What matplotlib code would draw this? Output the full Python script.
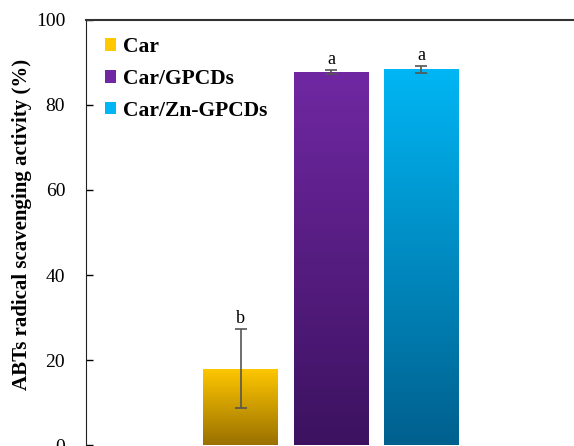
import matplotlib
matplotlib.use('Agg')
import matplotlib.pyplot as plt
import numpy as np
from matplotlib.colors import LinearSegmentedColormap

samples = ['Car', 'Car/GPCDs', 'Car/Zn-GPCDs']
values = [18.0, 87.7, 88.4]
errors = [9.4, 0.5, 0.8]
letters = ['b', 'a', 'a']
top_colors = ['#ffc800', '#7028a2', '#00b6f4']
bottom_colors = ['#9a7000', '#3c1260', '#00608e']

plt.rcParams['font.family'] = ['Liberation Serif', 'DejaVu Serif']

fig = plt.figure(figsize=(5.74, 4.46), dpi=100)
ax = fig.add_axes([0.1498, 0.0022, 0.8502, 0.9530])

x = np.arange(len(samples))
bars = ax.bar(x, values, width=0.83, color='none', edgecolor='none', zorder=2)

# vertical gradient fill for each bar
grad = np.linspace(0, 1, 256).reshape(-1, 1)
for b, c_top, c_bot, lab in zip(bars, top_colors, bottom_colors, samples):
    cmap = LinearSegmentedColormap.from_list('g', [c_bot, c_top])
    x0, y0 = b.get_x(), b.get_y()
    w, h = b.get_width(), b.get_height()
    im = ax.imshow(grad, cmap=cmap, aspect='auto', origin='lower',
                   extent=[x0, x0 + w, y0, y0 + h], zorder=2)
    im.set_clip_path(b)
    ax.bar(0, 0, color=c_top, label=lab)  # legend proxy

ax.errorbar(x, values, yerr=errors, fmt='none', ecolor='#555555',
            elinewidth=1.2, capsize=4, capthick=1.2, zorder=3)

for xi, v, e, t in zip(x, values, errors, letters):
    ax.text(xi, v + e + 0.4, t, ha='center', va='bottom', fontsize=13)

ax.set_xlim(-1.72, 3.7)
ax.set_ylim(0, 100)
ax.set_yticks([0, 20, 40, 60, 80, 100])
ax.set_xticks([])
ax.tick_params(axis='y', direction='in', length=5, width=1, labelsize=14, pad=15)
ax.set_ylabel('ABTs radical scavenging activity (%)', fontsize=15,
              fontweight='bold', labelpad=10)
ax.yaxis.set_label_coords(-0.11, 0.52)

for s in ['right', 'bottom']:
    ax.spines[s].set_visible(False)
ax.spines['left'].set_color('#222222')
ax.spines['top'].set_color('#333333')
ax.spines['top'].set_linewidth(1.5)

leg = ax.legend(loc='upper left', bbox_to_anchor=(0.0, 1.005), frameon=False,
                prop={'weight': 'bold', 'size': 15.5}, handlelength=0.5,
                handleheight=0.5, handletextpad=0.3, labelspacing=0.55)

fig.savefig('out.png', dpi=100)
